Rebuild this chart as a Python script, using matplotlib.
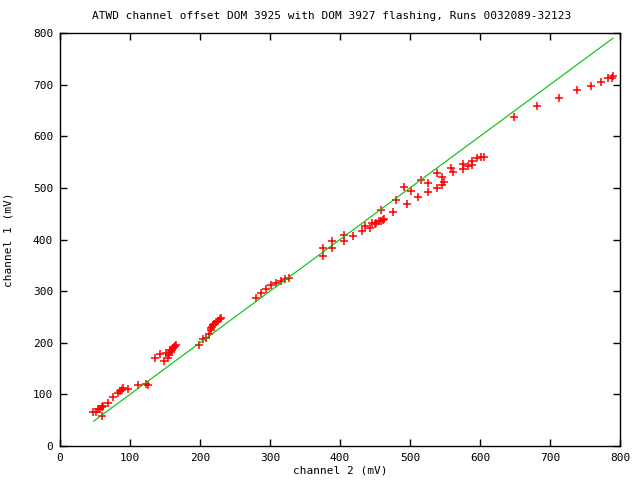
import matplotlib
matplotlib.use("Agg")
import matplotlib.pyplot as plt

# Data: channel 2 (mV) vs channel 1 (mV)
ch2 = [47.6, 51, 54.8, 57, 59.5, 62, 60, 68, 75, 83, 86, 88, 90.5, 97.6, 112, 123, 126,
       136, 143, 148, 151, 154, 156, 157, 158, 160, 161, 163, 164, 166,
       199, 204, 209, 213, 215, 216, 217, 218, 219, 220, 223, 225, 228, 230,
       280, 287, 294, 301, 309, 316, 322, 327,
       375, 375, 389, 389, 405, 405, 419, 432,
       435, 443, 446, 450, 452, 455, 458, 461, 463,
       458, 475, 480, 492, 495, 502, 512, 516, 525, 526, 538, 538, 545, 545, 549,
       558, 562, 575, 575, 583, 588, 588, 596, 602, 605,
       648, 682, 713, 739, 759, 773, 783, 789, 790]
ch1 = [65.6, 66, 71, 72, 74.6, 76.6, 58, 83, 94, 102, 106, 109, 112, 111, 118, 120, 119,
       171, 178, 164, 181, 171, 177, 185, 182, 186, 189, 191, 193, 195,
       196, 207, 209, 216, 228, 224, 231, 234, 235, 237, 240, 243, 246, 248,
       287, 296, 304, 311, 316, 320, 324, 326,
       384, 369, 397, 384, 409, 397, 407, 416,
       426, 423, 432, 430, 432, 436, 435, 438, 440,
       457, 453, 476, 502, 469, 494, 482, 515, 509, 492, 528, 499, 521, 506, 511,
       539, 530, 546, 536, 542, 553, 544, 558, 560, 560,
       638, 658, 675, 689, 698, 706, 712, 713, 716]

# Reference line (channel 1 = channel 2)
line_x = [48, 790]
line_y = [48, 790]

title = "ATWD channel offset DOM 3925 with DOM 3927 flashing, Runs 0032089-32123"
ticks = [0, 100, 200, 300, 400, 500, 600, 700, 800]

plt.rcParams['font.family'] = ['DejaVu Sans Mono']
fig = plt.figure(figsize=(6.4, 4.8), dpi=100)
ax = fig.add_axes([60/640, 1-446/480, 560/640, 413/480])

ax.plot(ch2, ch1, linestyle='none', marker='+', color='#ff0000',
        markersize=6, markeredgewidth=1.1)
ax.plot(line_x, line_y, color='#00c000', linewidth=0.8)

ax.set_xlim(0, 800)
ax.set_ylim(0, 800)
ax.set_xticks(ticks)
ax.set_yticks(ticks)
ax.tick_params(direction='in', length=5, width=1, top=True, right=True,
               labelsize=8, pad=5)
for s in ax.spines.values():
    s.set_linewidth(1)
ax.set_xlabel("channel 2 (mV)", fontsize=8, labelpad=2)
ax.set_ylabel("channel 1 (mV)", fontsize=8, labelpad=14)
fig.text(332/640, 1-16/480, title, ha='center', va='center', fontsize=8)

fig.savefig("out.png", dpi=100)
